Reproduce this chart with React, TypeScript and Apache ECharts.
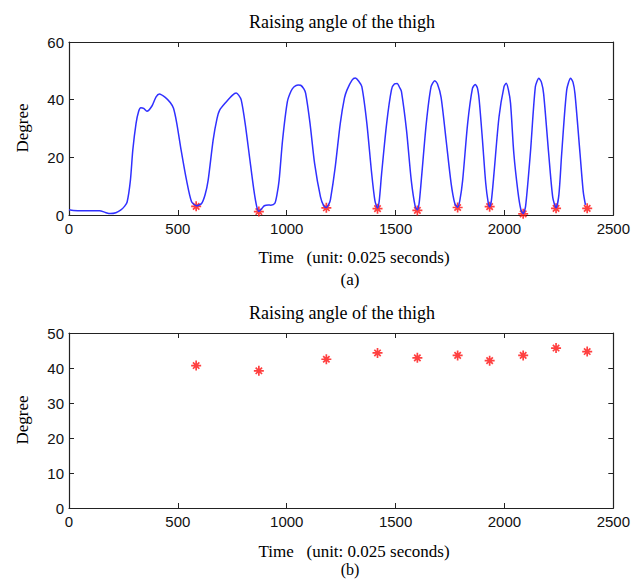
import React, { useEffect, useRef } from "react";
import * as echarts from "echarts";

// (a) thigh raising angle trace
const timeA = [0, 20, 60, 140, 170, 190, 215, 237, 255, 267, 282, 293, 308, 320, 330, 343, 358, 381, 400, 415, 442, 465, 480, 495, 515, 540, 563, 586, 609, 625, 639, 662, 680, 692, 723, 750, 768, 780, 791, 809, 829, 849, 862, 872, 885, 897, 915, 927, 945, 955, 965, 981, 1003, 1020, 1034, 1052, 1064, 1078, 1087, 1107, 1128, 1155, 1170, 1182, 1195, 1201, 1223, 1246, 1265, 1277, 1300, 1315, 1330, 1345, 1368, 1390, 1405, 1417, 1425, 1436, 1459, 1481, 1495, 1507, 1520, 1527, 1550, 1572, 1590, 1600, 1608, 1618, 1641, 1663, 1680, 1692, 1709, 1732, 1755, 1772, 1785, 1795, 1808, 1831, 1853, 1866, 1876, 1884, 1899, 1914, 1925, 1932, 1940, 1952, 1975, 1998, 2008, 2018, 2028, 2043, 2062, 2075, 2086, 2097, 2119, 2142, 2158, 2170, 2180, 2203, 2222, 2237, 2250, 2263, 2286, 2304, 2315, 2324, 2347, 2362, 2372];
const angleA = [1.8, 1.6, 1.5, 1.5, 0.8, 0.5, 0.8, 1.7, 3, 4.5, 12, 22.5, 31.8, 36, 37.2, 37, 36, 37.8, 41, 42, 40.8, 39, 37, 31.8, 22.5, 12, 4.6, 3.2, 4, 7, 12, 26, 33.5, 36.4, 39.3, 41.5, 42.3, 41.5, 39.9, 31.8, 20.2, 8.7, 3, 1.3, 2.2, 3.2, 3.5, 3.4, 4, 7, 12, 26, 39.3, 43, 44.5, 45.1, 45, 43.8, 42.2, 31.8, 17.9, 6.3, 3.2, 2.6, 4, 5.4, 16.8, 31.8, 40.5, 43.4, 46.8, 47.5, 46.5, 44.5, 31.8, 14.5, 5, 2.4, 5, 14.5, 31.8, 43.4, 45.5, 45.6, 44, 42.8, 29.5, 12, 3, 1.8, 4, 12, 31.8, 44.5, 46.6, 45.5, 40.8, 26, 11, 4, 2.7, 5, 12, 31.8, 43.9, 45.3, 44, 39.9, 26, 11, 4.5, 2.9, 5, 14.5, 34, 44.5, 45.7, 43.5, 38.7, 21.4, 8, 2, 0.5, 3, 21.4, 44.5, 47.4, 46, 42, 21.4, 6, 2.5, 7, 21.4, 43.4, 47.4, 46, 42, 21.4, 8, 3.5];

// detected minima (stars)
const starTimes = [584, 872, 1182, 1417, 1600, 1785, 1932, 2086, 2237, 2380];
const starLowA = [3.0, 1.2, 2.5, 2.2, 1.6, 2.6, 2.9, 0.4, 2.3, 2.3];
// (b) raising angle per step
const starPeakB = [40.7, 39.2, 42.5, 44.3, 42.9, 43.6, 42.1, 43.6, 45.7, 44.7];

const xTicksMax = 2500;
const titleText = "Raising angle of the thigh";
const xName = "Time   (unit: 0.025 seconds)";
const yName = "Degree";

const STAR = "path://M5,0 L5,10 M0,5 L10,5 M1.8,1.8 L8.2,8.2 M1.8,8.2 L8.2,1.8";

export default function App() {
  const ref = useRef<HTMLDivElement>(null);
  useEffect(() => {
    document.body.style.margin = "0";
    const chart = echarts.init(ref.current!, null, { renderer: "svg" });
    const tickFont = { fontFamily: "Liberation Sans", fontSize: 15, color: "#111" };
    const mkX = (grid: number, pos: "top" | "bottom") => ({
      type: "value",
      gridIndex: grid,
      position: pos,
      min: 0,
      max: xTicksMax,
      interval: 500,
      axisLine: { show: true, onZero: false, lineStyle: { color: "#222", width: 1.2 } },
      axisTick: { show: true, inside: true, length: 5, lineStyle: { color: "#222" } },
      axisLabel: { show: pos === "bottom", margin: 6, formatter: (v: number) => String(v), ...tickFont },
      splitLine: { show: false },
    });
    const mkY = (grid: number, pos: "left" | "right", max: number, interval: number) => ({
      type: "value",
      gridIndex: grid,
      position: pos,
      min: 0,
      max,
      interval,
      axisLine: { show: true, onZero: false, lineStyle: { color: "#222", width: 1.2 } },
      axisTick: { show: true, inside: true, length: 5, lineStyle: { color: "#222" } },
      axisLabel: { show: pos === "left", margin: 5, formatter: (v: number) => String(v), ...tickFont },
      splitLine: { show: false },
    });
    const serif = "Liberation Serif";
    const txt = (text: string, x: number, y: number, size: number, rot = 0) => ({
      type: "text",
      x,
      y,
      rotation: rot,
      style: { text, fontFamily: serif, fontSize: size, fill: "#000", align: "center", verticalAlign: "middle" },
    });
    const starStyle = { color: "rgba(0,0,0,0)", borderColor: "#ff1010", borderWidth: 1.7 };
    chart.setOption({
      animation: false,
      backgroundColor: "#fff",
      grid: [
        { left: 69, top: 42, width: 546, height: 173 },
        { left: 69, top: 333, width: 546, height: 175 },
      ],
      xAxis: [mkX(0, "bottom"), mkX(0, "top"), mkX(1, "bottom"), mkX(1, "top")],
      yAxis: [mkY(0, "left", 60, 20), mkY(0, "right", 60, 20), mkY(1, "left", 50, 10), mkY(1, "right", 50, 10)],
      series: [
        {
          type: "line",
          xAxisIndex: 0,
          yAxisIndex: 0,
          data: timeA.map((t, i) => [t, angleA[i]]),
          showSymbol: false,
          smooth: 0.25,
          lineStyle: { color: "#3030ff", width: 1.5 },
        },
        {
          type: "scatter",
          xAxisIndex: 0,
          yAxisIndex: 0,
          data: starTimes.map((t, i) => [t, starLowA[i]]),
          symbol: STAR,
          symbolSize: 10,
          itemStyle: starStyle,
        },
        {
          type: "scatter",
          xAxisIndex: 2,
          yAxisIndex: 2,
          data: starTimes.map((t, i) => [t, starPeakB[i]]),
          symbol: STAR,
          symbolSize: 10,
          itemStyle: starStyle,
        },
      ],
      graphic: [
        txt(titleText, 342, 22, 18),
        txt(xName, 354, 257, 17),
        txt("(a)", 350, 279, 17),
        txt(yName, 22, 128, 17, Math.PI / 2),
        txt(titleText, 342, 313, 18),
        txt(xName, 354, 551, 17),
        txt("(b)", 350, 569, 16),
        txt(yName, 22, 420, 17, Math.PI / 2),
      ],
    });
    return () => chart.dispose();
  }, []);
  return <div ref={ref} style={{ width: 633, height: 579 }} />;
}
